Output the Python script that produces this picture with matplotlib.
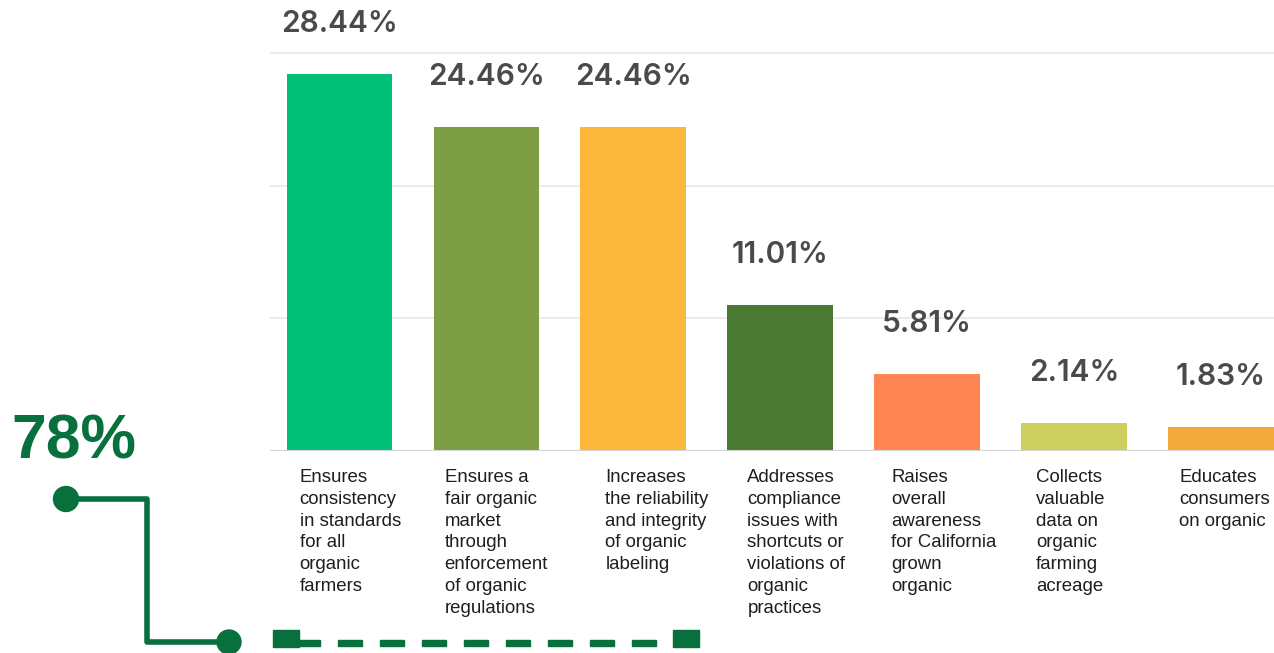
import matplotlib.pyplot as plt
from matplotlib.patches import Rectangle, Circle

categories = [
    "Ensures\nconsistency\nin standards\nfor all\norganic\nfarmers",
    "Ensures a\nfair organic\nmarket\nthrough\nenforcement\nof organic\nregulations",
    "Increases\nthe reliability\nand integrity\nof organic\nlabeling",
    "Addresses\ncompliance\nissues with\nshortcuts or\nviolations of\norganic\npractices",
    "Raises\noverall\nawareness\nfor California\ngrown\norganic",
    "Collects\nvaluable\ndata on\norganic\nfarming\nacreage",
    "Educates\nconsumers\non organic",
]
values = [28.44, 24.46, 24.46, 11.01, 5.81, 2.14, 1.83]
colors = ["#00BF78", "#7E9E45", "#FBB83B", "#4A7A33", "#FF8552", "#CDCF5F", "#F3A93A"]
big_number = "78%"

W, H = 1274, 653
fig = plt.figure(figsize=(W / 100, H / 100), dpi=100)
fig.patch.set_facecolor("white")

# main bar chart
ax = fig.add_axes([270 / W, (H - 451) / H, 1004 / W, 399 / H])
x = list(range(len(values)))
ax.bar(x, values, width=0.72, color=colors, zorder=2)
ax.set_xlim(-0.473, 6.361)
ax.set_ylim(0, 30.1)
ax.set_yticks([10, 20, 30])
ax.yaxis.grid(True, color="#e8e8e8", linewidth=1.2, zorder=0)
ax.axhline(0, color="#d4d4d4", linewidth=1.5, zorder=3)
for s in ax.spines.values():
    s.set_visible(False)
ax.set_xticks([])
ax.tick_params(left=False, labelleft=False)

# label offsets from bar left edge (pixels), the source layout is a bit uneven
label_dx = [13, 11, 25, 20, 17, 15, 11]
for i, v in enumerate(values):
    ax.annotate(f"{v:.2f}%", (i, v), xytext=(0, 30), textcoords="offset points",
                ha="center", va="baseline", fontsize=21.5, fontweight="semibold",
                family="Inter", color="#4a4a4a", annotation_clip=False)
    ax.annotate(categories[i], (i - 0.36, 0), xytext=(label_dx[i] * 0.72, -13),
                textcoords="offset points", ha="left", va="top", fontsize=13.4,
                family="Liberation Sans", color="#1e1e1e", linespacing=1.37,
                annotation_clip=False)

# decorative overlay in pixel coordinates
deco = fig.add_axes([0, 0, 1, 1], zorder=-1)
deco.set_xlim(0, W)
deco.set_ylim(H, 0)
deco.axis("off")
green = "#08703C"

deco.text(11, 442, big_number, fontsize=45, fontweight="bold", family="Liberation Sans",
          color=green, va="center", ha="left")
deco.plot([66, 147, 147, 229], [499, 499, 642, 642], color=green, linewidth=4,
          solid_joinstyle="round", solid_capstyle="round")
deco.add_patch(Circle((66, 499), 12.5, color=green))
deco.add_patch(Circle((229, 642), 12, color=green))

deco.add_patch(Rectangle((273, 630), 26, 17, color=green))
deco.add_patch(Rectangle((673, 630), 26, 17, color=green))
deco.add_patch(Rectangle((299, 640), 21, 6, color=green))
for k in range(8):
    deco.add_patch(Rectangle((338 + 42 * k, 640), 24, 6, color=green))

fig.savefig("out.png", dpi=100)
